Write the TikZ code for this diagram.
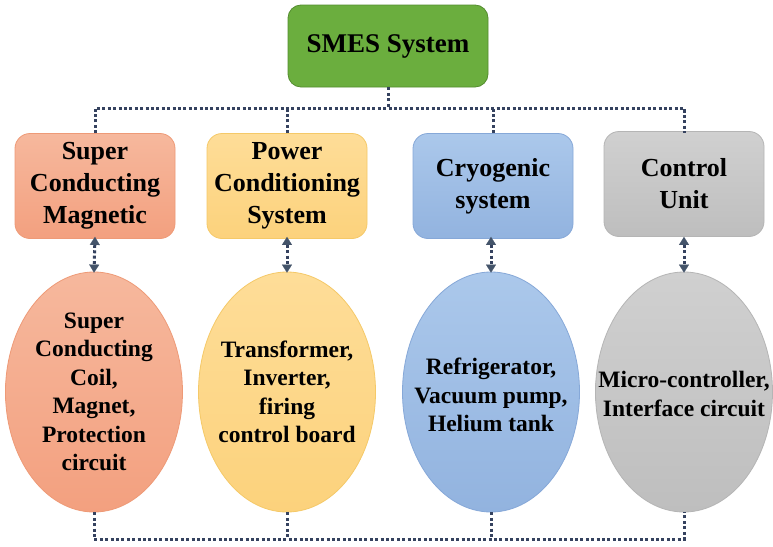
\documentclass[tikz,border=0pt]{standalone}
\usepackage{fontspec}
\setmainfont{Liberation Serif}
\usetikzlibrary{arrows.meta,shapes.geometric}

\definecolor{linkc}{HTML}{35425F}
\definecolor{tipc}{HTML}{44546A}
\definecolor{grnF}{HTML}{6BAE3E}
\definecolor{grnD}{HTML}{548C2F}
\definecolor{orT}{HTML}{F6B89D}
\definecolor{orB}{HTML}{F3A07F}
\definecolor{orD}{HTML}{EE9A77}
\definecolor{ylT}{HTML}{FEDD98}
\definecolor{ylB}{HTML}{FCD27C}
\definecolor{ylD}{HTML}{F5C968}
\definecolor{blT}{HTML}{ABC8EB}
\definecolor{blB}{HTML}{92B3DF}
\definecolor{blD}{HTML}{86A8D8}
\definecolor{gyT}{HTML}{D0D0D0}
\definecolor{gyB}{HTML}{BEBEBE}
\definecolor{gyD}{HTML}{B5B5B5}

\tikzset{
  x=1pt, y=-1pt,
  topbox/.style={draw=grnD, fill=grnF, line width=0.8pt, rounded corners=13pt,
    minimum width=200pt, minimum height=82pt, inner sep=0pt,
    font=\bfseries\fontsize{27}{32}\selectfont},
  partbox/.style={rounded corners=15pt, line width=0.8pt,
    minimum width=160pt, minimum height=105pt, inner sep=0pt, align=center,
    font=\bfseries\fontsize{26}{32}\selectfont},
  partoval/.style={ellipse, line width=0.8pt, minimum width=177pt,
    minimum height=240pt, inner sep=0pt},
  ovaltext/.style={inner sep=0pt, align=center,
    font=\bfseries\fontsize{23.5}{28.5}\selectfont},
  orangecol/.style={draw=orD, top color=orT, bottom color=orB},
  yellowcol/.style={draw=ylD, top color=ylT, bottom color=ylB},
  bluecol/.style={draw=blD, top color=blT, bottom color=blB},
  graycol/.style={draw=gyD, top color=gyT, bottom color=gyB},
  dotlink/.style={draw=linkc, line width=3pt, line cap=butt,
    dash pattern=on 3pt off 2.4pt},
  duallink/.style={dotlink, {Triangle[width=10pt,length=8pt,fill=tipc,color=tipc,line width=0.1pt]}-{Triangle[width=10pt,length=8pt,fill=tipc,color=tipc,line width=0.1pt]}}
}

\begin{document}
\begin{tikzpicture}
  % canvas
  \useasboundingbox (0,0) rectangle (773,546);
  \fill[white] (0,0) rectangle (773,546);

  % root
  \node[topbox] (smes) at (388,46) {SMES System};

  % subsystem boxes
  \node[partbox, orangecol] (mag) at (95,186) {Super\\Conducting\\Magnetic};
  \node[partbox, yellowcol] (pcs) at (287,186) {Power\\Conditioning\\System};
  \node[partbox, bluecol]   (cry) at (493,186) {Cryogenic\\system};
  \node[partbox, graycol]   (ctl) at (684,184) {Control\\Unit};

  % component ovals (shape and text kept apart so the ovals keep their size)
  \node[partoval, orangecol] (magc) at (94,392) {};
  \node[partoval, yellowcol] (pcsc) at (287,392) {};
  \node[partoval, bluecol]   (cryc) at (491,392) {};
  \node[partoval, graycol]   (ctlc) at (684,392) {};
  \node[ovaltext] (magt) at (magc.center)
    {Super\\Conducting\\Coil,\\Magnet,\\Protection\\circuit};
  \node[ovaltext] (pcst) at (pcsc.center)
    {Transformer,\\Inverter,\\firing\\control board};
  \node[ovaltext] (cryt) at ([yshift=-3pt]cryc.center)
    {Refrigerator,\\Vacuum pump,\\Helium tank};
  \node[ovaltext] (ctlt) at ([yshift=-2pt]ctlc.center)
    {Micro-controller,\\Interface circuit};

  % top distribution bus
  \coordinate (busT) at (388,108);
  \draw[dotlink] (smes.south) -- (busT);
  \draw[dotlink] (mag.north) |- (busT) -| (ctl.north |- mag.north);
  \draw[dotlink] (pcs.north) -- (pcs.north |- busT);
  \draw[dotlink] (cry.north) -- (cry.north |- busT);

  % box <-> oval links
  \draw[duallink] ([yshift=2pt]mag.south) -- ([yshift=-1pt]magc.north);
  \draw[duallink] ([yshift=2pt]pcs.south) -- ([yshift=-1pt]pcsc.north);
  \draw[duallink] ([yshift=2pt]cry.south -| cryc.north) -- ([yshift=-1pt]cryc.north);
  \draw[duallink] ([yshift=2pt]mag.south -| ctl.south) -- ([yshift=-1pt]ctlc.north);

  % bottom bus
  \coordinate (busB) at (388,539);
  \draw[dotlink] (magc.south) |- (busB) -| (ctlc.south);
  \draw[dotlink] (pcsc.south) -- (pcsc.south |- busB);
  \draw[dotlink] (cryc.south) -- (cryc.south |- busB);
\end{tikzpicture}
\end{document}
